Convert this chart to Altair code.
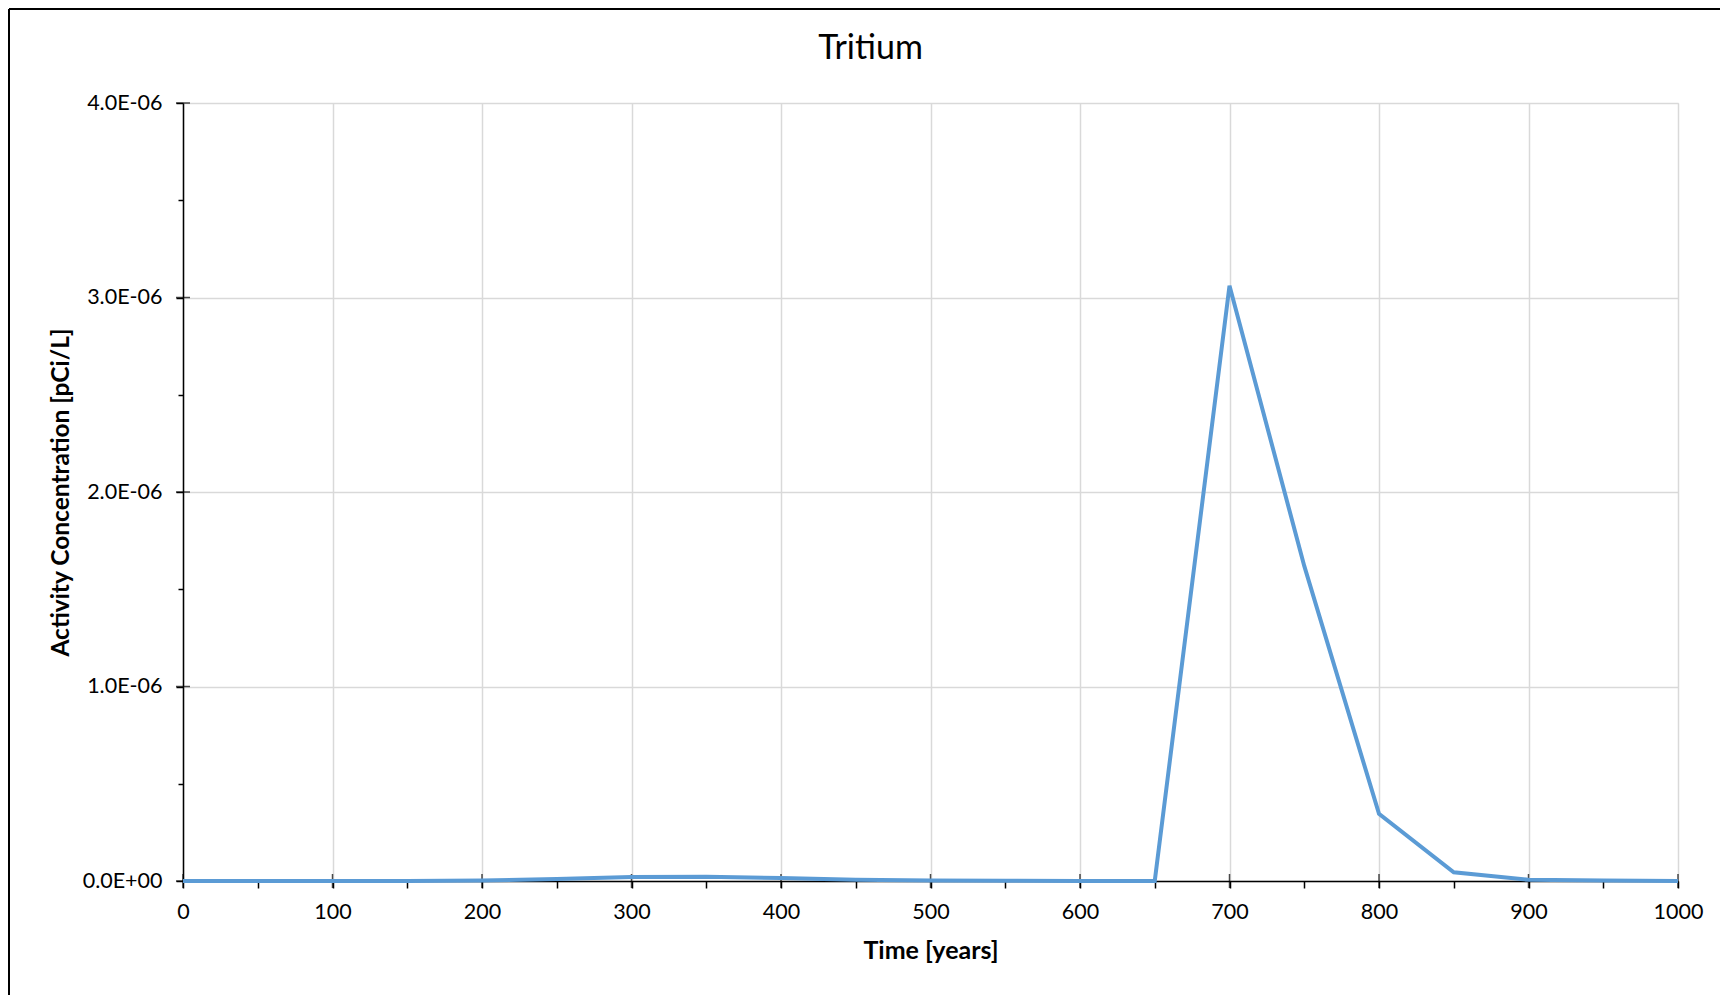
import altair as alt
import pandas as pd

# Data
years = [0, 50, 100, 150, 200, 250, 300, 350, 400, 450, 500,
         550, 600, 650, 700, 750, 800, 850, 900, 950, 1000]
activity = [0.0, 0.0, 0.0, 0.0, 0.003e-6, 0.010e-6, 0.020e-6, 0.022e-6, 0.015e-6, 0.007e-6, 0.003e-6,
            0.001e-6, 0.0, 0.0, 3.06e-6, 1.62e-6, 0.345e-6, 0.045e-6, 0.006e-6, 0.002e-6, 0.0]

x_ticks = list(range(0, 1001, 50))
y_ticks = [i * 0.5e-6 for i in range(0, 9)]
x_major = list(range(0, 1001, 100))
y_major = [i * 1e-6 for i in range(0, 5)]
title_text = ["Tritium"]

df = pd.DataFrame({"year": years, "value": activity})
xm = pd.DataFrame({"t": x_major})
ym = pd.DataFrame({"t": y_major})
tdf = pd.DataFrame({"label": title_text})

W, H = 1495, 778
FONT = "Lato"

x_scale = alt.Scale(domain=[0, 1000], nice=False, zero=False)
y_scale = alt.Scale(domain=[0, 4e-6], nice=False)

minor_x = "datum.value % 100 != 0"
minor_y = "round(datum.value * 2e6) % 2 == 1"

x_axis = alt.Axis(
    values=x_ticks,
    labelExpr=f"{minor_x} ? '' : format(datum.value, 'd')",
    title="Time [years]",
    grid=True,
    gridColor={"condition": {"test": minor_x, "value": "transparent"}, "value": "#d9d9d9"},
    gridWidth=1.5,
    domainColor="#000000",
    domainWidth=1.5,
    tickColor="#000000",
    tickWidth=1.5,
    tickSize=7,
    labelFont=FONT,
    labelFontSize=21.5,
    labelColor="#000000",
    labelPadding=13,
    labelFlush=False,
    titleFont=FONT,
    titleFontSize=25,
    titleFontWeight="bold",
    titleColor="#000000",
    titleBaseline="alphabetic",
    titleY=77,
    zindex=0,
)

y_axis = alt.Axis(
    values=y_ticks,
    labelExpr=f"{minor_y} ? '' : (datum.value == 0 ? '0.0E+00' : format(datum.value * 1e6, '.1f') + 'E-06')",
    title="Activity Concentration [pCi/L]",
    grid=True,
    gridColor={"condition": {"test": minor_y, "value": "transparent"}, "value": "#d9d9d9"},
    gridWidth=1.5,
    domainColor="#000000",
    domainWidth=1.5,
    tickColor="#000000",
    tickWidth=1.5,
    tickSize={"condition": {"test": minor_y, "value": 5}, "value": 7},
    labelFont=FONT,
    labelFontSize=21.5,
    labelColor="#000000",
    labelPadding=14,
    labelFlush=False,
    titleFont=FONT,
    titleFontSize=24.5,
    titleFontWeight="bold",
    titleColor="#000000",
    titleBaseline="alphabetic",
    titleAngle=-90,
    titleX=-115,
    titleY=H / 2,
    zindex=0,
)

line = alt.Chart(df).mark_line(color="#5b9bd5", strokeWidth=4).encode(
    x=alt.X("year:Q", scale=x_scale, axis=x_axis),
    y=alt.Y("value:Q", scale=y_scale, axis=y_axis),
)

# inner halves of the major ticks (Excel "cross" ticks)
x_cross = alt.Chart(xm).mark_tick(color="#000000", thickness=1.5, size=14).encode(
    x=alt.X("t:Q", scale=x_scale),
    y=alt.value(H),
)
y_cross = alt.Chart(ym).mark_tick(color="#000000", thickness=1.5, size=14).encode(
    y=alt.Y("t:Q", scale=y_scale),
    x=alt.value(0),
)

# chart title
title = alt.Chart(tdf).mark_text(
    font=FONT, fontSize=34, color="#000000", baseline="alphabetic", align="center"
).encode(
    text="label:N",
    x=alt.value(W / 2 - 60),
    y=alt.value(-44),
)

# chart-area frame (left and top edges)
frame_df = pd.DataFrame({"k": [0]})
frame_left = alt.Chart(frame_df).mark_rule(color="#000000", strokeWidth=2).encode(
    x=alt.value(-174), y=alt.value(-94), y2=alt.value(H + 200)
)
frame_top = alt.Chart(frame_df).mark_rule(color="#000000", strokeWidth=2).encode(
    x=alt.value(-174), x2=alt.value(W + 200), y=alt.value(-94)
)

chart = alt.layer(x_cross, y_cross, line, title, frame_left, frame_top).properties(
    width=W,
    height=H,
    autosize=alt.AutoSizeParams(type="none"),
    padding={"left": 175, "top": 95, "right": 42, "bottom": 114},
).configure_view(stroke=None).configure(background="#ffffff")

chart.save("out.html", embed_options={"renderer": "svg", "actions": False})
